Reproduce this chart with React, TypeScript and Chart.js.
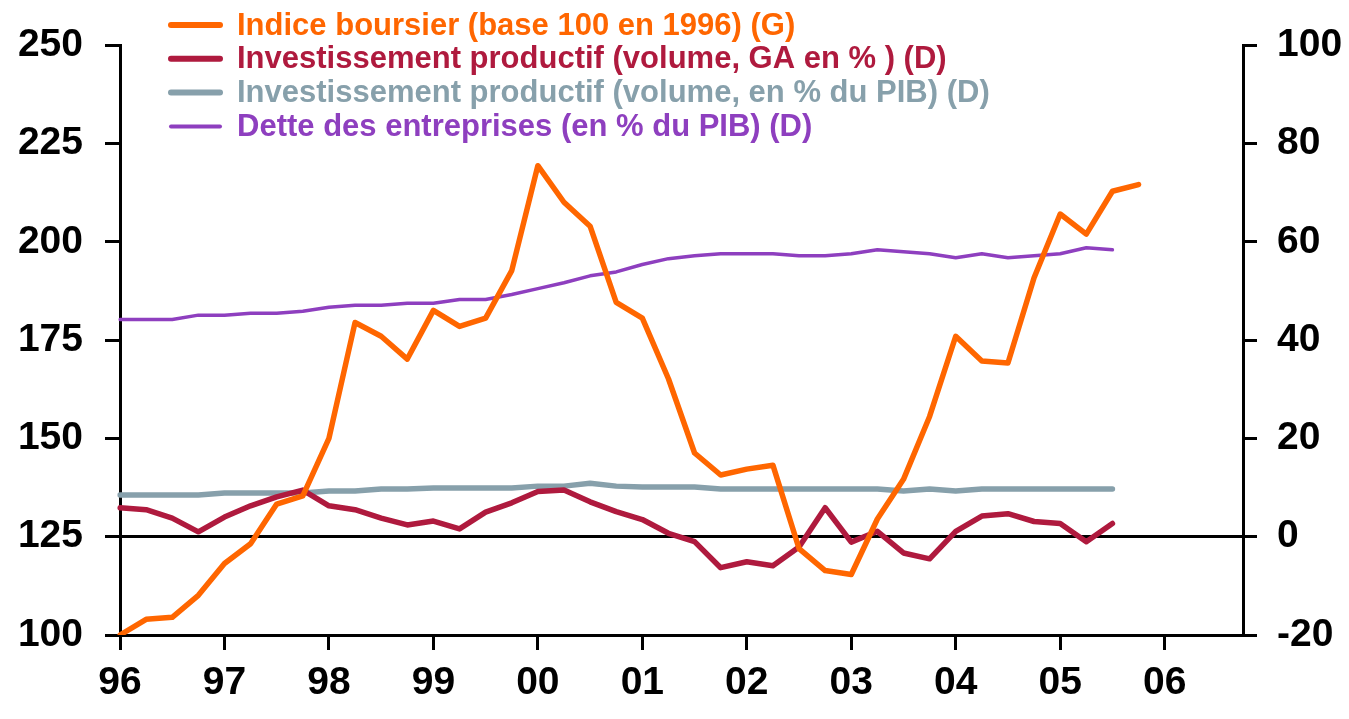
import React, { useEffect, useRef } from "react";
import { Chart, registerables } from "chart.js";

Chart.register(...registerables);

const years = ["96", "97", "98", "99", "00", "01", "02", "03", "04", "05", "06"];
const quarters: string[] = [];
years.forEach((y) => {
  ["T1", "T2", "T3", "T4"].forEach((q) => quarters.push(y + q));
});

const indiceBoursier = [
  100, 104.0, 104.5, 110.1, 118.2, 123.2, 133.3, 135.4,
  150.0, 179.5, 176.0, 170.2, 182.6, 178.5, 180.6, 192.7,
  219.4, 210.1, 204.0, 184.6, 180.6, 165.2, 146.3, 140.7,
  142.2, 143.2, 122.0, 116.4, 115.4, 129.5, 139.6, 155.6,
  176.0, 169.7, 169.2, 190.9, 207.1, 202.0, 212.9, 214.6,
];

const investGA = [
  5.9, 5.5, 3.8, 1.0, 4.0, 6.3, 8.1, 9.5,
  6.3, 5.5, 3.8, 2.4, 3.2, 1.6, 5.0, 6.9,
  9.2, 9.5, 7.1, 5.1, 3.5, 0.7, -1.0, -6.3,
  -5.1, -5.9, -2.1, 5.9, -1.1, 1.1, -3.3, -4.5,
  1.1, 4.2, 4.7, 3.1, 2.7, -1.0, 2.7,
];

const investPIB = [
  8.5, 8.5, 8.5, 8.5, 8.9, 8.9, 8.9, 8.9,
  9.3, 9.3, 9.7, 9.7, 9.9, 9.9, 9.9, 9.9,
  10.3, 10.3, 10.9, 10.3, 10.1, 10.1, 10.1, 9.7,
  9.7, 9.7, 9.7, 9.7, 9.7, 9.7, 9.3, 9.7,
  9.3, 9.7, 9.7, 9.7, 9.7, 9.7, 9.7,
];

const detteEntreprises = [
  44.2, 44.2, 44.2, 45.1, 45.1, 45.5, 45.5, 45.9,
  46.7, 47.1, 47.1, 47.5, 47.5, 48.3, 48.3, 49.3,
  50.5, 51.7, 53.1, 53.9, 55.4, 56.6, 57.2, 57.6,
  57.6, 57.6, 57.2, 57.2, 57.6, 58.4, 58.0, 57.6,
  56.8, 57.6, 56.8, 57.2, 57.6, 58.8, 58.4,
];

const leftTicks = { min: 100, max: 250, step: 25 };
const rightTicks = { min: -20, max: 100, step: 20 };

const legendItems = [
  { text: "Indice boursier (base 100 en 1996) (G)", color: "#FF6600", width: 6 },
  { text: "Investissement productif (volume, GA en % ) (D)", color: "#AF1A3E", width: 6 },
  { text: "Investissement productif (volume, en % du PIB) (D)", color: "#87A0AB", width: 6 },
  { text: "Dette des entreprises (en % du PIB) (D)", color: "#8E3FBF", width: 4 },
];

const FONT = '"Liberation Sans", Arial, Helvetica, sans-serif';

const legendPlugin = {
  id: "customLegend",
  afterDraw(chart: any) {
    const ctx = chart.ctx;
    ctx.save();
    ctx.font = `bold 31px ${FONT}`;
    ctx.textBaseline = "middle";
    ctx.textAlign = "left";
    legendItems.forEach((item, i) => {
      const y = 25 + i * 33.8;
      ctx.strokeStyle = item.color;
      ctx.lineWidth = item.width;
      ctx.lineCap = "round";
      ctx.beginPath();
      ctx.moveTo(171, y);
      ctx.lineTo(220, y);
      ctx.stroke();
      ctx.fillStyle = item.color;
      ctx.fillText(item.text, 237, y + 1);
    });
    ctx.restore();
  },
};

export default function App() {
  const canvasRef = useRef<HTMLCanvasElement | null>(null);

  useEffect(() => {
    if (!canvasRef.current) return;
    const chart = new Chart(canvasRef.current, {
      type: "line",
      data: {
        labels: quarters,
        datasets: [
          {
            label: legendItems[0].text,
            data: indiceBoursier,
            borderColor: legendItems[0].color,
            borderWidth: 5.5,
            yAxisID: "y",
          },
          {
            label: legendItems[1].text,
            data: investGA,
            borderColor: legendItems[1].color,
            borderWidth: 5.5,
            yAxisID: "y2",
          },
          {
            label: legendItems[2].text,
            data: investPIB,
            borderColor: legendItems[2].color,
            borderWidth: 5.5,
            yAxisID: "y2",
          },
          {
            label: legendItems[3].text,
            data: detteEntreprises,
            borderColor: legendItems[3].color,
            borderWidth: 3.5,
            yAxisID: "y2",
          },
        ],
      },
      options: {
        animation: false,
        responsive: true,
        maintainAspectRatio: false,
        layout: { padding: { top: 41, left: 0, right: 0, bottom: 0 } },
        elements: {
          point: { radius: 0, hoverRadius: 0 },
          line: { tension: 0, borderCapStyle: "round", borderJoinStyle: "round", fill: false },
        },
        plugins: {
          legend: { display: false },
          tooltip: { enabled: false },
        },
        scales: {
          x: {
            type: "category",
            offset: false,
            grid: {
              offset: false,
              drawOnChartArea: false,
              drawTicks: true,
              tickLength: 15,
              tickWidth: 3,
              tickColor: (c: any) => (c.index % 4 === 0 ? "#000" : "rgba(0,0,0,0)"),
            },
            border: { display: true, color: "#000", width: 3 },
            ticks: {
              autoSkip: false,
              maxRotation: 0,
              minRotation: 0,
              padding: 10,
              color: "#000",
              font: { family: FONT, size: 39, weight: "bold" },
              callback: (_v: any, i: number) => (i % 4 === 0 ? years[i / 4] : ""),
            },
            afterFit: (s: any) => {
              s.height = 84;
            },
          },
          y: {
            type: "linear",
            position: "left",
            min: leftTicks.min,
            max: leftTicks.max,
            grid: {
              drawOnChartArea: false,
              drawTicks: true,
              tickLength: 15,
              tickWidth: 3,
              tickColor: "#000",
            },
            border: { display: true, color: "#000", width: 3 },
            ticks: {
              stepSize: leftTicks.step,
              padding: 22,
              color: "#000",
              font: { family: FONT, size: 39, weight: "bold" },
            },
            afterFit: (s: any) => {
              s.width = 120;
            },
          },
          y2: {
            type: "linear",
            position: "right",
            min: rightTicks.min,
            max: rightTicks.max,
            grid: {
              drawOnChartArea: true,
              drawTicks: true,
              tickLength: 14,
              tickWidth: 3,
              lineWidth: 3,
              color: (c: any) => (c.tick && c.tick.value === 0 ? "#000" : "rgba(0,0,0,0)"),
              tickColor: "#000",
            },
            border: { display: true, color: "#000", width: 3 },
            ticks: {
              stepSize: rightTicks.step,
              padding: 20,
              color: "#000",
              font: { family: FONT, size: 39, weight: "bold" },
            },
            afterFit: (s: any) => {
              s.width = 106;
            },
          },
        },
      } as any,
      plugins: [legendPlugin],
    });
    return () => chart.destroy();
  }, []);

  return (
    <div style={{ position: "fixed", left: 0, top: 0, width: 1349, height: 719, background: "#fff" }}>
      <canvas ref={canvasRef} />
    </div>
  );
}
